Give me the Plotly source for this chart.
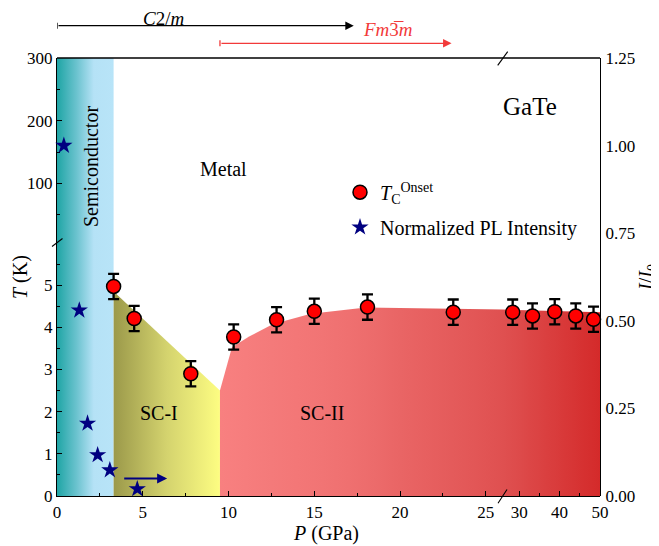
import plotly.graph_objects as go

# ---------------- data ----------------
P_tc = [3.3, 4.5, 7.8, 10.3, 12.8, 15.0, 18.1, 23.1, 28.4, 33.3, 38.8, 44.0, 48.4]
T_tc = [4.97, 4.21, 2.90, 3.77, 4.18, 4.38, 4.48, 4.36, 4.36, 4.27, 4.37, 4.27, 4.19]
T_err = [0.3, 0.3, 0.3, 0.3, 0.3, 0.3, 0.3, 0.3, 0.3, 0.3, 0.3, 0.3, 0.3]

P_pl = [0.4, 1.3, 1.78, 2.37, 3.08, 4.68]
I_pl = [1.00, 0.53, 0.207, 0.117, 0.074, 0.02]

# phase regions
P_semi_end = 3.3
P_sc1 = [3.3, 9.5]
T_sc1 = [4.85, 2.5]
P_sc2 = [9.5, 10.2, 11.2, 12.6, 14.8, 18.0, 23.0, 26.0, 50.0]
T_sc2 = [2.5, 3.53, 3.78, 4.08, 4.32, 4.47, 4.44, 4.42, 4.36]

# structure ranges (top arrows)
P_c2m = [0, 17.3]
P_fm3m = [9.5, 23.0]
P_pl_arrow = [3.83, 6.42]
I_pl_arrow = 0.05

# axes
P_break = 26.0
P_max = 50.0
T_low_max = 6.0
T_high_range = [5, 300]
x_ticks1 = [0, 5, 10, 15, 20, 25]
x_minor1 = [2.5, 7.5, 12.5, 17.5, 22.5]
x_ticks2 = [30, 40, 50]
x_minor2 = [35, 45]
T_ticks_low = [0, 1, 2, 3, 4, 5]
T_minor_low = [0.5, 1.5, 2.5, 3.5, 4.5, 5.5]
T_ticks_high = [100, 200, 300]
T_minor_high = [50, 150, 250]
I_ticks = [0, 0.25, 0.5, 0.75, 1.0, 1.25]

# ---------------- geometry ----------------
OFF = 8                      # page body margin
W, H = 651, 538
L, R, T, B = 49, 592, 50, 488   # plot area in figure pixels
XB = 495                     # x break pixel (figure)
YB = 235                     # y break pixel (figure)
xs = (XB - L) / (R - L)
ys = (B - YB) / (B - T)


def fx(px):   # px given in page (reference) pixels
    return (px - OFF - L) / (R - L)


def fy(py):
    return (B - (py - OFF)) / (B - T)


def p2px(p):
    if p <= P_break:
        return L + p / P_break * (XB - L)
    return XB + (p - P_break) / (P_max - P_break) * (R - XB)


def hex2rgb(h):
    h = h.lstrip('#')
    return tuple(int(h[i:i + 2], 16) for i in (0, 2, 4))


def interp(stops, f):
    for (f0, c0), (f1, c1) in zip(stops[:-1], stops[1:]):
        if f0 <= f <= f1:
            t = 0 if f1 == f0 else (f - f0) / (f1 - f0)
            a, b = hex2rgb(c0), hex2rgb(c1)
            return 'rgb(%d,%d,%d)' % tuple(round(a[i] + (b[i] - a[i]) * t) for i in range(3))
    return stops[-1][1]


def seg_scale(stops, g0, g1, n=12):
    return [[i / (n - 1), interp(stops, g0 + (g1 - g0) * i / (n - 1))] for i in range(n)]


FONT = "Liberation Serif, Times New Roman, serif"

semi_scale = [[0, '#1fa5a5'], [0.35, '#6cc3cf'], [0.65, '#b5e2f6'], [1, '#b8e4f8']]
sc1_scale = [[0, '#9b994a'], [0.5, '#d4d36e'], [1, '#fdfd82']]
sc2_stops = [(0, '#f88080'), (0.3, '#f07373'), (0.75, '#df5050'), (1, '#d42a2a')]
x0px, x1px = p2px(P_sc1[1]), p2px(P_max)
gj = (p2px(P_break) - x0px) / (x1px - x0px)

fig = go.Figure()

# semiconductor region (lower and upper y segments)
for ya, y0, y1 in [('y', 0, T_low_max), ('y2', T_high_range[0], T_high_range[1])]:
    fig.add_trace(go.Scatter(
        x=[0, P_semi_end, P_semi_end, 0], y=[y0, y0, y1, y1],
        xaxis='x', yaxis=ya, mode='none', fill='toself',
        fillgradient=dict(type='horizontal', colorscale=semi_scale),
        showlegend=False, hoverinfo='skip'))

# SC-I region
fig.add_trace(go.Scatter(
    x=[P_sc1[0], P_sc1[0], P_sc1[1], P_sc1[1]], y=[0, T_sc1[0], T_sc1[1], 0],
    xaxis='x', yaxis='y', mode='none', fill='toself',
    fillgradient=dict(type='horizontal', colorscale=sc1_scale),
    showlegend=False, hoverinfo='skip'))

# SC-II region, left part
pl = [p for p in P_sc2 if p <= P_break]
tl = [t for p, t in zip(P_sc2, T_sc2) if p <= P_break]
fig.add_trace(go.Scatter(
    x=[pl[0]] + pl + [pl[-1]], y=[0] + tl + [0],
    xaxis='x', yaxis='y', mode='none', fill='toself',
    fillgradient=dict(type='horizontal', colorscale=seg_scale(sc2_stops, 0, gj)),
    showlegend=False, hoverinfo='skip'))
# SC-II region, right part
pr = [p for p in P_sc2 if p >= P_break]
tr = [t for p, t in zip(P_sc2, T_sc2) if p >= P_break]
fig.add_trace(go.Scatter(
    x=[pr[0]] + pr + [pr[-1]], y=[0] + tr + [0],
    xaxis='x2', yaxis='y', mode='none', fill='toself',
    fillgradient=dict(type='horizontal', colorscale=seg_scale(sc2_stops, gj, 1)),
    showlegend=False, hoverinfo='skip'))

# Tc onset points
marker_tc = dict(symbol='circle', size=14, color='#ff0000', line=dict(color='black', width=1.5))
err_style = dict(type='data', thickness=2.3, width=5.5, color='black')
idx_l = [i for i, p in enumerate(P_tc) if p <= P_break]
idx_r = [i for i, p in enumerate(P_tc) if p > P_break]
fig.add_trace(go.Scatter(
    x=[P_tc[i] for i in idx_l], y=[T_tc[i] for i in idx_l],
    error_y=dict(array=[T_err[i] for i in idx_l], **err_style),
    xaxis='x', yaxis='y', mode='markers', marker=marker_tc, cliponaxis=False,
    name='<i>T</i><sub>C</sub><sup>Onset</sup>', legendgroup='a', legendrank=1))
fig.add_trace(go.Scatter(
    x=[P_tc[i] for i in idx_r], y=[T_tc[i] for i in idx_r],
    error_y=dict(array=[T_err[i] for i in idx_r], **err_style),
    xaxis='x2', yaxis='y', mode='markers', marker=marker_tc, cliponaxis=False,
    showlegend=False, legendgroup='a'))

# PL intensity stars
fig.add_trace(go.Scatter(
    x=P_pl, y=I_pl, xaxis='x', yaxis='y3', mode='markers', cliponaxis=False,
    marker=dict(symbol='star', size=13, color='#000080', line=dict(width=0)),
    name='Normalized PL Intensity', legendgroup='b', legendrank=2))

tickfont = dict(family=FONT, size=17, color='black')
common = dict(showgrid=False, zeroline=False, showline=True, linecolor='black', linewidth=1.3,
              tickfont=tickfont, ticks='inside', ticklen=5, tickwidth=1.2, tickcolor='black')
minor_common = dict(ticks='inside', ticklen=3, tickwidth=1, tickcolor='black', showgrid=False)

fig.update_layout(
    width=W, height=H,
    margin=dict(l=L, r=W - R, t=T, b=H - B, pad=0),
    paper_bgcolor='white', plot_bgcolor='rgba(0,0,0,0)',
    font=dict(family=FONT, size=17, color='black'),
    xaxis=dict(domain=[0, xs], range=[0, P_break], anchor='y', tickmode='array', tickvals=x_ticks1,
               minor=dict(tickmode='array', tickvals=x_minor1, **minor_common), **common),
    xaxis2=dict(domain=[xs, 1], range=[P_break, P_max], anchor='y', tickmode='array', tickvals=x_ticks2,
                minor=dict(tickmode='array', tickvals=x_minor2, **minor_common), **common),
    yaxis=dict(domain=[0, ys], range=[0, T_low_max], anchor='x', tickmode='array', tickvals=T_ticks_low,
               minor=dict(tickmode='array', tickvals=T_minor_low, **minor_common), **common),
    yaxis2=dict(domain=[ys, 1], range=T_high_range, anchor='x', tickmode='array', tickvals=T_ticks_high,
                minor=dict(tickmode='array', tickvals=T_minor_high, **minor_common), **common),
    yaxis3=dict(domain=[0, 1], range=[0, 1.25], anchor='free', position=1, side='right',
                tickmode='array', tickvals=I_ticks, tickformat='.2f', showgrid=False, zeroline=False,
                showline=True, linecolor='black', linewidth=1.3, ticks='', tickfont=tickfont,
                ticklabelstandoff=1),
    legend=dict(x=fx(340), y=fy(172.7), xanchor='left', yanchor='top', bgcolor='rgba(0,0,0,0)',
                font=dict(family=FONT, size=20, color='black'), tracegroupgap=6,
                itemsizing='trace'),
    showlegend=True,
)

shapes = []
# top frame line
shapes.append(dict(type='line', xref='paper', yref='paper', x0=0, x1=1, y0=1, y1=1,
                   line=dict(color='black', width=1.3)))
# break marks
for (a, b), (c, d) in [((497.7, 65.3), (507.7, 51.7)), ((498.0, 503.3), (507.0, 489.5)),
                       ((52.0, 246.5), (62.5, 238.5))]:
    shapes.append(dict(type='line', xref='paper', yref='paper', x0=fx(a), y0=fy(b), x1=fx(c), y1=fy(d),
                       line=dict(color='black', width=1.1)))
# start bars of structure arrows
for p, yy, col in [(P_c2m[0], 25.7, 'black'), (P_fm3m[0], 43.3, '#f23a3a')]:
    shapes.append(dict(type='line', xref='x', yref='paper', x0=p, x1=p, y0=fy(yy + 3), y1=fy(yy - 3),
                       line=dict(color=col, width=1.3)))
fig.update_layout(shapes=shapes)

ann = []


def txt(s, px, py, size=20, color='black', angle=0):
    ann.append(dict(text=s, x=fx(px), y=fy(py), xref='paper', yref='paper', showarrow=False,
                    xanchor='center', yanchor='middle', textangle=angle, borderpad=0,
                    font=dict(family=FONT, size=size, color=color)))


txt('Semiconductor', 91, 167, angle=-90)
txt('Metal', 223, 169)
txt('GaTe', 530, 107, size=25)
txt('SC-I', 159, 413)
txt('SC-II', 322, 413)
txt('<i>C</i>2/<i>m</i>', 163, 18, size=19)
txt('<i>Fm</i>3\u0305<i>m</i>', 388, 30, size=19, color='#f23a3a')
txt('<i>T</i> (K)', 20, 277, angle=-90)
txt('<i>I</i>/<i>I</i><sub>0</sub>', 647, 277, angle=-90)
txt('<i>P</i> (GPa)', 326, 533)

# structure arrows
for (p0, p1), yy, col in [(P_c2m, 25.7, 'black'), (P_fm3m, 43.3, '#f23a3a')]:
    ann.append(dict(text='', x=p1, y=fy(yy), xref='x', yref='paper', ax=p0, ay=0, axref='x', ayref='pixel',
                    showarrow=True, arrowhead=2, arrowsize=1.3, arrowwidth=1.3, arrowcolor=col))
# PL arrow pointing to right axis
ann.append(dict(text='', x=P_pl_arrow[1], y=I_pl_arrow, xref='x', yref='y3', ax=P_pl_arrow[0], ay=I_pl_arrow,
                axref='x', ayref='y3', showarrow=True, arrowhead=2, arrowsize=1.0, arrowwidth=2,
                arrowcolor='#000080'))
fig.update_layout(annotations=ann)

fig.write_html("out.html")
